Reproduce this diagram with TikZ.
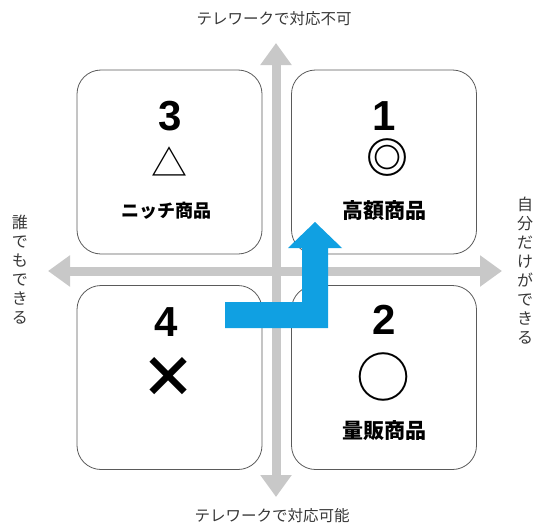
\documentclass[tikz,border=0pt]{standalone}
\usepackage{fontspec}
\usetikzlibrary{arrows.meta}
\newfontfamily\jp{Noto Sans CJK JP}
\newfontfamily\numf{Liberation Sans}
\definecolor{axisgray}{RGB}{200,200,200}
\definecolor{arrowblue}{RGB}{16,160,226}
\definecolor{labelgray}{RGB}{55,55,55}
\definecolor{boxline}{RGB}{90,90,90}
\begin{document}
\begin{tikzpicture}[x=1pt,y=-1pt,
  box/.style={draw=boxline, line width=0.8pt, fill=white, rounded corners=24pt,
    minimum width=185pt, minimum height=184pt, inner sep=0pt},
  axis/.style={draw=axisgray, line width=9pt,
    {Triangle[width=30pt,length=22pt]}-{Triangle[width=30pt,length=22pt]}},
  num/.style={font=\numf\bfseries\fontsize{42}{42}\selectfont, inner sep=0pt},
  capt/.style={font=\jp\bfseries\fontsize{#1}{#1}\selectfont, inner sep=0pt},
  sym/.style={font=\jp\fontsize{#1}{#1}\selectfont, inner sep=0pt},
  axlab/.style={text=labelgray, font=\jp\fontsize{15.5}{15.5}\selectfont, inner sep=0pt},
  vlab/.style={text=labelgray, font=\jp\fontsize{16}{19}\selectfont, align=center, inner sep=0pt},
]
\useasboundingbox (0,0) rectangle (540,527);
% axes
\coordinate (top) at (276,43);
\coordinate (bottom) at (276,497);
\coordinate (left) at (48,271);
\coordinate (right) at (502,271);
\draw[axis] (bottom) -- (top);
\draw[axis] (left) -- (right);
% boxes
\node[box] (b3) at (169.5,162) {};
\node[box] (b1) at (384,162) {};
\node[box] (b4) at (169.5,377.5) {};
\node[box] (b2) at (384,377.5) {};
% box contents
\node[num] (n3) at (170,116) {3};
\node[sym=36] (s3) at (169,162) {△};
\node[capt=18] (t3) at (166,211) {ニッチ商品};
\node[num] (n1) at (384,116) {1};
\node[capt=42] (s1) at (387,158) {◎};
\node[capt=21] (t1) at (384.5,211) {高額商品};
\node[num] (n4) at (166,322) {4};
\node[capt=56] (s4) at (168.5,377.5) {×};
\node[num] (n2) at (384,320) {2};
\node[sym=54] (s2) at (383,377) {○};
\node[capt=21] (t2) at (384,431) {量販商品};
% axis labels
\node[axlab] (ltop) at (274,19) {テレワークで対応不可};
\node[axlab] (lbot) at (272,516) {テレワークで対応可能};
\node[vlab] (lleft) at (20,270) {誰\\で\\も\\で\\き\\る};
\node[vlab] (lright) at (525,271) {自\\分\\だ\\け\\が\\で\\き\\る};
% blue arrow
\fill[arrowblue] (225,302) -- (302,302) -- (302,248) -- (288,248) -- (315,222)
  -- (342,248) -- (328,248) -- (328,328) -- (225,328) -- cycle;
\end{tikzpicture}
\end{document}
